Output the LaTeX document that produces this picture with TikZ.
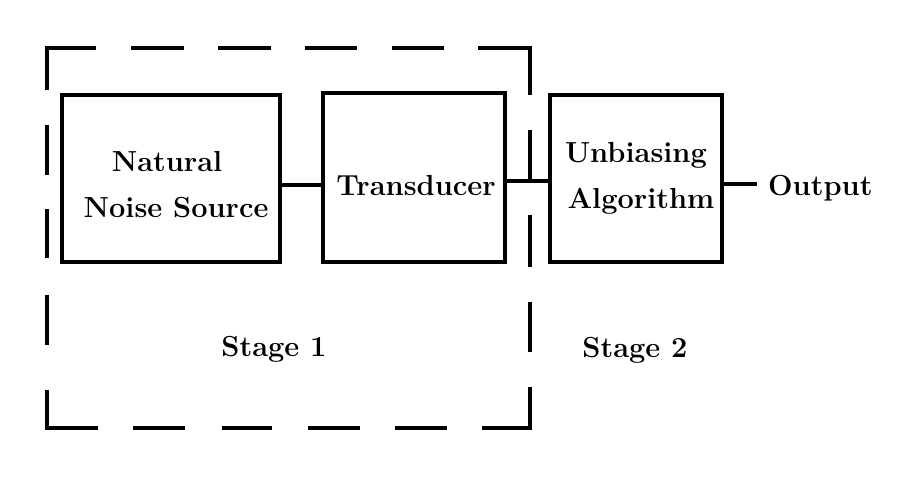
\documentclass[tikz,border=0pt]{standalone}
\usepackage{fontspec}
\begin{document}
\begin{tikzpicture}[x=1pt,y=-1pt,
  lbl/.style={font=\fontsize{29}{46}\selectfont\bfseries, inner sep=0pt},
  blk/.style={draw, line width=4.2pt, inner sep=0pt},
  txt/.style={lbl, align=center},
  wire/.style={line width=4pt},
  frame/.style={line width=3.4pt, line join=miter, line cap=butt}]
\useasboundingbox (0,0) rectangle (915,500);

% processing blocks
\node[blk, minimum width=218pt, minimum height=167pt] (nns) at (171,178.5) {};
\node[blk, minimum width=182pt, minimum height=169pt] (trd) at (414,177.5) {};
\node[blk, minimum width=172pt, minimum height=167pt] (ua) at (636,178.5) {};

% block captions
\node[txt, anchor=base] (nnsA) at (167,171) {Natural};
\node[txt, anchor=base] (nnsB) at (176,217) {Noise Source};
\node[txt, anchor=base] (trdT) at (416,195) {Transducer};
\node[txt, anchor=base] (uaA) at (636,162) {Unbiasing};
\node[txt, anchor=base] (uaB) at (641,208) {Algorithm};
\node[lbl, anchor=base west, inner xsep=11pt] (out) at (757,195) {Output};

% links between blocks
\draw[wire] ([yshift=-6.5pt]nns.east) -- ([yshift=-6.5pt]nns.east -| trd.west);
\draw[wire] ([yshift=-3pt]trd.east) -- ([yshift=-3pt]trd.east -| ua.west);
\draw[wire] ([yshift=-5pt]ua.east) -- ([yshift=-5pt]ua.east -| out.west);

% dashed boundary of stage 1
\draw[frame] (47,90) -- (47,48) -- (96,48);
\draw[frame] (131,48) -- (184,48) (218,48) -- (271,48) (305,48) -- (357,48) (392,48) -- (444,48);
\draw[frame] (478,48) -- (530,48) -- (530,95);
\draw[frame] (530,130) -- (530,180) (530,215) -- (530,267) (530,302) -- (530,352);
\draw[frame] (530,387) -- (530,428) -- (482,428);
\draw[frame] (133,428) -- (185,428) (222,428) -- (272,428) (308,428) -- (360,428) (395,428) -- (447,428);
\draw[frame] (98,428) -- (47,428) -- (47,390);
\draw[frame] (47,125) -- (47,175) (47,209) -- (47,258) (47,295) -- (47,345);

% stage captions
\node[lbl, anchor=base] (s1) at (274,356) {Stage 1};
\node[lbl, anchor=base] (s2) at (635,357) {Stage 2};
\end{tikzpicture}
\end{document}
